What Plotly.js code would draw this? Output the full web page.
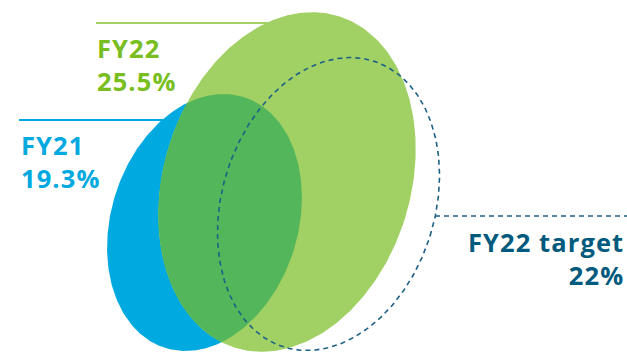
<!DOCTYPE html>
<html>
<head>
<meta charset="utf-8">
<script src="https://cdn.plot.ly/plotly-3.0.1.min.js"></script>
<style>
html,body{margin:0;padding:0;background:#fff;}
#chart{width:627px;height:354px;}
#chart .annotation-text{letter-spacing:1.1px;}
</style>
</head>
<body>
<div id="chart"></div>
<script>
// ---- data ----
var categories = ["FY21", "FY22", "FY22 target"];
var values = [19.3, 25.5, 22];
var valueLabels = ["19.3%", "25.5%", "22%"];

// ---- layout constants (positions / styles) ----
var W = 627, H = 354;
var majPerUnit = 6.81, minPerUnit = 4.84;   // semi-axis length per percentage point
var tilt = 17.4 * Math.PI / 180;             // clockwise tilt of the major axis from vertical
var centers = [[204.5, 222.5], [287, 182], [328.5, 204]];
var fills = ["#00a9e0", "#a1d164", null];
var overlapColor = "#54b65a";
var textColors = ["#00a9e0", "#78be20", "#005a7d"];
var dashColor = "#1d5f86";

function ellipse(i, n) {
  var a = majPerUnit * values[i], b = minPerUnit * values[i];
  var cx = centers[i][0], cy = centers[i][1];
  var xs = [], ys = [];
  for (var k = 0; k <= n; k++) {
    var p = 2 * Math.PI * k / n;
    var u = b * Math.cos(p), v = a * Math.sin(p);
    xs.push(cx + u * Math.cos(tilt) + v * Math.sin(tilt));
    ys.push(cy + u * Math.sin(tilt) - v * Math.cos(tilt));
  }
  return {x: xs, y: ys};
}

// Sutherland-Hodgman clip of polygon subj by convex polygon clip
function clipPoly(subj, clip) {
  var out = subj.slice();
  var area = 0;
  for (var i = 0; i < clip.length; i++) {
    var p = clip[i], q = clip[(i + 1) % clip.length];
    area += p[0] * q[1] - q[0] * p[1];
  }
  var sgn = area > 0 ? 1 : -1;
  function inside(pt, a, b) {
    return sgn * ((b[0] - a[0]) * (pt[1] - a[1]) - (b[1] - a[1]) * (pt[0] - a[0])) >= 0;
  }
  function inter(p1, p2, a, b) {
    var x1 = p1[0], y1 = p1[1], x2 = p2[0], y2 = p2[1];
    var x3 = a[0], y3 = a[1], x4 = b[0], y4 = b[1];
    var d = (x1 - x2) * (y3 - y4) - (y1 - y2) * (x3 - x4);
    var t = ((x1 - x3) * (y3 - y4) - (y1 - y3) * (x3 - x4)) / d;
    return [x1 + t * (x2 - x1), y1 + t * (y2 - y1)];
  }
  for (var i = 0; i < clip.length; i++) {
    var A = clip[i], B = clip[(i + 1) % clip.length];
    var inp = out; out = [];
    if (!inp.length) break;
    var S = inp[inp.length - 1];
    for (var j = 0; j < inp.length; j++) {
      var E = inp[j];
      if (inside(E, A, B)) {
        if (!inside(S, A, B)) out.push(inter(S, E, A, B));
        out.push(E);
      } else if (inside(S, A, B)) {
        out.push(inter(S, E, A, B));
      }
      S = E;
    }
  }
  return out;
}

var N = 360;
var eBlue = ellipse(0, N), eGreen = ellipse(1, N), eTarget = ellipse(2, N);
function toPts(e) { var r = []; for (var i = 0; i < e.x.length - 1; i++) r.push([e.x[i], e.y[i]]); return r; }
var ov = clipPoly(toPts(eBlue), toPts(eGreen));
var ovX = ov.map(function (p) { return p[0]; }); ovX.push(ov[0][0]);
var ovY = ov.map(function (p) { return p[1]; }); ovY.push(ov[0][1]);

var traces = [
  {x: eBlue.x, y: eBlue.y, type: "scatter", mode: "lines", fill: "toself", fillcolor: fills[0], line: {width: 0, color: fills[0]}, hoverinfo: "skip", name: categories[0]},
  {x: eGreen.x, y: eGreen.y, type: "scatter", mode: "lines", fill: "toself", fillcolor: fills[1], line: {width: 0, color: fills[1]}, hoverinfo: "skip", name: categories[1]},
  {x: ovX, y: ovY, type: "scatter", mode: "lines", fill: "toself", fillcolor: overlapColor, line: {width: 0, color: overlapColor}, hoverinfo: "skip", name: "overlap"},
  {x: eTarget.x, y: eTarget.y, type: "scatter", mode: "lines", line: {width: 1.6, color: dashColor, dash: "5px,4px"}, hoverinfo: "skip", name: categories[2]}
];

var font = "Open Sans, sans-serif";
function ann(i, x, y, xanchor) {
  return {text: "<b>" + categories[i] + "</b><br><b>" + valueLabels[i] + "</b>", x: x, y: y, xref: "x", yref: "y",
    showarrow: false, xanchor: xanchor, yanchor: "middle", align: xanchor,
    font: {family: font, size: 25.5, color: textColors[i]}};
}
var annotations = [
  ann(1, 95, 64, "left"),
  ann(0, 19, 161, "left"),
  ann(2, 626, 258, "right")
];

var shapes = [
  {type: "line", xref: "x", yref: "y", x0: 96, x1: 272, y0: 23, y1: 23, line: {color: fills[1], width: 2.2}},
  {type: "line", xref: "x", yref: "y", x0: 19, x1: 166, y0: 120, y1: 120, line: {color: fills[0], width: 2.2}},
  {type: "line", xref: "x", yref: "y", x0: 435, x1: 627, y0: 216, y1: 216, line: {color: dashColor, width: 1.4, dash: "5px,4px"}}
];

var layout = {
  width: W, height: H,
  margin: {l: 0, r: 0, t: 0, b: 0, pad: 0},
  paper_bgcolor: "#ffffff", plot_bgcolor: "#ffffff",
  showlegend: false,
  xaxis: {range: [0, W], visible: false, fixedrange: true},
  yaxis: {range: [H, 0], visible: false, fixedrange: true},
  annotations: annotations,
  shapes: shapes
};

Plotly.newPlot("chart", traces, layout, {staticPlot: true, displayModeBar: false});
</script>
</body>
</html>
